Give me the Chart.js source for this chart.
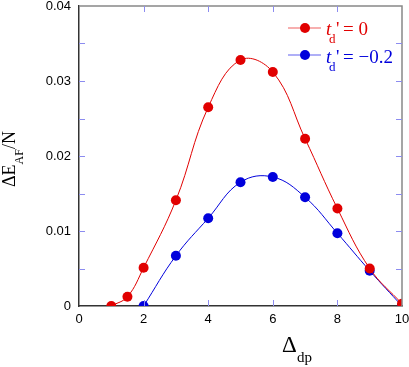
<!DOCTYPE html>
<html>
<head>
<meta charset="utf-8">
<script src="https://cdn.jsdelivr.net/npm/chart.js@4"></script>
<style>
  html, body { margin: 0; padding: 0; background: #fff; }
  #wrap { width: 409px; height: 367px; }
</style>
</head>
<body>
<div id="wrap"><canvas id="chart" width="409" height="367"></canvas></div>
<script>
// values
const redX = [1, 1.5, 2, 3, 4, 5, 6, 7, 8, 9, 10];
const redY = [0, 0.00124, 0.0051, 0.0141, 0.0265, 0.0328, 0.0312, 0.0223, 0.0130, 0.0050, 0.0003];
const blueX = [2, 3, 4, 5, 6, 7, 8, 9, 10];
const blueY = [0, 0.0067, 0.0117, 0.0165, 0.0172, 0.0145, 0.0097, 0.0047, 0.0000];
const xTicks = [0, 2, 4, 6, 8, 10];
const yTicks = [0, 0.01, 0.02, 0.03, 0.04];
const yMinorTicks = [0.005, 0.015, 0.025, 0.035];

const RED = '#e10000';
const BLUE = '#0000dc';

const toPoints = (xs, ys) => xs.map((x, i) => ({ x: x, y: ys[i] }));

// frame, inward tick marks, axis titles and legend
const extras = {
	id: 'extras',
	afterDatasetsDraw(chart) {
		const { ctx, chartArea: a, scales } = chart;
		const xs = scales.x, ys = scales.y;
		ctx.save();

		// top and right frame
		ctx.strokeStyle = '#888';
		ctx.lineWidth = 1.5;
		ctx.beginPath();
		ctx.moveTo(a.left, a.top);
		ctx.lineTo(a.right, a.top);
		ctx.lineTo(a.right, a.bottom);
		ctx.stroke();

		// tick marks pointing inward
		ctx.strokeStyle = '#8c8cf0';
		ctx.lineWidth = 1;
		ctx.beginPath();
		xTicks.slice(1, -1).forEach(v => {
			const px = Math.round(xs.getPixelForValue(v)) + 0.5;
			ctx.moveTo(px, a.bottom); ctx.lineTo(px, a.bottom - 6);
			ctx.moveTo(px, a.top); ctx.lineTo(px, a.top + 6);
		});
		yTicks.slice(1, -1).concat(yMinorTicks).forEach(v => {
			const py = Math.round(ys.getPixelForValue(v)) + 0.5;
			ctx.moveTo(a.left, py); ctx.lineTo(a.left + 6, py);
			ctx.moveTo(a.right, py); ctx.lineTo(a.right - 6, py);
		});
		ctx.stroke();

		// x axis title: Δdp
		ctx.fillStyle = '#000';
		ctx.textBaseline = 'alphabetic';
		ctx.textAlign = 'left';
		ctx.font = '23px "Liberation Serif", serif';
		ctx.fillText('Δ', 282, 352);
		ctx.font = '15px "Liberation Serif", serif';
		ctx.fillText('dp', 297, 362);

		// y axis title: ΔE_AF/N, rotated
		ctx.save();
		ctx.translate(15, 187);
		ctx.rotate(-Math.PI / 2);
		ctx.font = '18px "Liberation Serif", serif';
		ctx.fillText('ΔE', 0, 0);
		let w = ctx.measureText('ΔE').width;
		ctx.font = '12px "Liberation Serif", serif';
		ctx.fillText('AF', w, 8);
		w += ctx.measureText('AF').width;
		ctx.font = '18px "Liberation Serif", serif';
		ctx.fillText('/N', w, 0);
		ctx.restore();

		// legend
		const items = [
			{ color: RED, lineColor: '#f06060', y: 28, base: 35, value: '= 0' },
			{ color: BLUE, lineColor: '#6060f0', y: 55, base: 63, value: '= \u22120.2' },
		];
		items.forEach(it => {
			ctx.strokeStyle = it.lineColor;
			ctx.lineWidth = 1.2;
			ctx.beginPath();
			ctx.moveTo(288, it.y); ctx.lineTo(321, it.y);
			ctx.stroke();
			ctx.fillStyle = it.color;
			ctx.beginPath();
			ctx.arc(305, it.y, 5, 0, Math.PI * 2);
			ctx.fill();
			ctx.font = 'italic 19px "Liberation Serif", serif';
			ctx.fillText('t', 326, it.base);
			ctx.font = '13px "Liberation Serif", serif';
			ctx.fillText('d', 329, it.base + 8);
			ctx.font = '19px "Liberation Serif", serif';
			ctx.fillText("'", 336, it.base);
			ctx.fillText(it.value, 343, it.base);
		});

		ctx.restore();
	}
};

const ctx = document.getElementById('chart').getContext('2d');
new Chart(ctx, {
	type: 'line',
	data: {
		datasets: [
			{
				label: "t_d' = 0",
				data: toPoints(redX, redY),
				borderColor: RED,
				backgroundColor: RED,
				borderWidth: 1,
				pointRadius: 5,
				pointBorderWidth: 0,
				tension: 0.4,
			},
			{
				label: "t_d' = -0.2",
				data: toPoints(blueX, blueY),
				borderColor: BLUE,
				backgroundColor: BLUE,
				borderWidth: 1,
				pointRadius: 5,
				pointBorderWidth: 0,
				tension: 0.4,
			},
		],
	},
	options: {
		responsive: false,
		animation: false,
		devicePixelRatio: 1,
		layout: { padding: { left: 0, right: 7, top: 6, bottom: 0 } },
		plugins: {
			legend: { display: false },
			tooltip: { enabled: false },
		},
		scales: {
			x: {
				type: 'linear',
				min: 0,
				max: 10,
				afterFit: s => {
					s.height = 61;
					s.paddingLeft = 0; s.paddingRight = 0;
				},
				afterBuildTicks: s => { s.ticks = xTicks.map(v => ({ value: v })); },
				grid: { display: false, drawTicks: false },
				border: { color: '#333', width: 1.5 },
				ticks: {
					color: '#000',
					padding: 6,
					maxRotation: 0,
					font: { family: '"Liberation Sans", Arial, sans-serif', size: 13 },
				},
			},
			y: {
				min: 0,
				max: 0.04,
				afterFit: s => {
					s.width = 79;
					s.paddingTop = 0; s.paddingBottom = 0;
				},
				afterBuildTicks: s => { s.ticks = yTicks.map(v => ({ value: v })); },
				grid: { display: false, drawTicks: false },
				border: { color: '#333', width: 1.5 },
				ticks: {
					color: '#000',
					padding: 8,
					font: { family: '"Liberation Sans", Arial, sans-serif', size: 13 },
					callback: v => (v === 0 ? '0' : v.toFixed(2)),
				},
			},
		},
	},
	plugins: [extras],
});
</script>
</body>
</html>
